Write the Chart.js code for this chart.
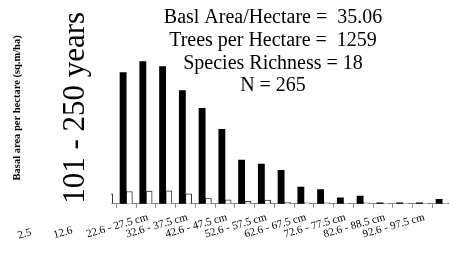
<!DOCTYPE html>
<html>
<head>
<meta charset="utf-8">
<script src="https://cdn.jsdelivr.net/npm/chart.js@4/dist/chart.umd.min.js"></script>
<style>
  html, body { margin: 0; padding: 0; background: #fff; }
  #wrap { width: 449px; height: 260px; position: relative; }
</style>
</head>
<body>
<div id="wrap"><canvas id="chart"></canvas></div>
<script>
// diameter classes (cm)
const classes = [
    '2.5 - 7.5 cm', '7.6 - 12.5 cm', '12.6 - 17.5 cm', '17.6 - 22.5 cm',
    '22.6 - 27.5 cm', '27.6 - 32.5 cm', '32.6 - 37.5 cm', '37.6 - 42.5 cm',
    '42.6 - 47.5 cm', '47.6 - 52.5 cm', '52.6 - 57.5 cm', '57.6 - 62.5 cm',
    '62.6 - 67.5 cm', '67.6 - 72.5 cm', '72.6 - 77.5 cm', '77.6 - 82.5 cm',
    '82.6 - 88.5 cm', '87.6 - 92.5 cm', '92.6 - 97.5 cm', '97.6 - 102.5 cm'
];
// black bars
const darkSeries = [null, null, null, 13.2, 14.3, 13.8, 11.4, 9.6, 7.5, 4.4,
    4.0, 3.37, 1.67, 1.43, 0.6, 0.77, 0.08, 0.08, 0.1, 0.43];
// white bars
const lightSeries = [null, null, 1.0, 1.23, 1.27, 1.3, 1.0, 0.57, 0.4, 0.23,
    0.37, 0.17, 0.1, 0.1, 0.03, 0.1, 0.03, 0.03, 0.05, 0.03];
const statsLines = [
    'Basl Area/Hectare =  35.06',
    'Trees per Hectare =  1259',
    'Species Richness = 18',
    'N = 265'
];
const yTitle = 'Basal area per hectare (sq.m/ha)';
const periodTitle = '101 - 250 years';

const SERIF = '"Liberation Serif", "Times New Roman", serif';
Chart.defaults.color = '#000';
Chart.defaults.font.family = SERIF;

// texts that sit inside the plot / outside the axis range
const textPlugin = {
    id: 'texts',
    afterDraw(chart) {
        const ctx = chart.ctx;
        ctx.save();
        ctx.fillStyle = '#000';
        ctx.font = '20px ' + SERIF;
        ctx.textAlign = 'center';
        ctx.textBaseline = 'alphabetic';
        statsLines.forEach((t, i) => ctx.fillText(t, 273, 23 + i * 22.8));

        // first two class labels, squeezed off to the left
        ctx.font = '11px ' + SERIF;
        ctx.textAlign = 'right';
        [[0, 32, 235], [2, 73, 233]].forEach(([i, x, y]) => {
            ctx.save();
            ctx.translate(x, y);
            ctx.rotate(-16 * Math.PI / 180);
            ctx.fillText(classes[i].split(' ')[0], 0, 0);
            ctx.restore();
        });
        ctx.restore();
    }
};

new Chart(document.getElementById('chart'), {
    type: 'bar',
    data: {
        datasets: [
            {
                data: classes.map((c, i) => ({ x: i, y: darkSeries[i] })),
                backgroundColor: '#000',
                borderWidth: 0,
                barThickness: 6.2,
                clip: 0
            },
            {
                data: classes.map((c, i) => ({ x: i, y: lightSeries[i] })),
                backgroundColor: '#fff',
                borderColor: '#333',
                borderWidth: 1,
                barThickness: 6.2,
                clip: 0
            }
        ]
    },
    options: {
        responsive: true,
        maintainAspectRatio: false,
        animation: false,
        layout: { padding: { top: 12, bottom: 16, left: 0, right: 0 } },
        plugins: { legend: { display: false }, tooltip: { enabled: false } },
        scales: {
            x: {
                type: 'linear',
                min: 2.23,
                max: 19.344,
                offset: false,
                afterBuildTicks(scale) {
                    const t = [];
                    for (let k = 2; k <= 18; k++) {
                        t.push({ value: k + 0.5 });
                        if (k >= 4 && k % 2 === 0) t.push({ value: k });
                    }
                    t.sort((a, b) => a.value - b.value);
                    scale.ticks = t;
                },
                grid: {
                    offset: false,
                    drawOnChartArea: false,
                    tickLength: 4,
                    color: (c) => (c.tick && c.tick.value % 1 !== 0) ? '#888' : 'rgba(0,0,0,0)'
                },
                border: { display: true, color: '#888', width: 1 },
                ticks: {
                    autoSkip: false,
                    minRotation: 16,
                    maxRotation: 16,
                    padding: 3,
                    labelOffset: 2,
                    font: { size: 11, family: SERIF },
                    callback: (v) => (Number.isInteger(v) ? classes[v] : '')
                }
            },
            y: {
                position: 'left',
                weight: 1,
                min: 0,
                max: 19.3,
                grid: { display: false, drawTicks: false },
                border: { display: false },
                ticks: { display: false },
                title: {
                    display: true,
                    text: yTitle,
                    font: { size: 10.5, weight: 'bold', family: SERIF },
                    padding: { top: 11.2, bottom: 5 }
                }
            },
            yPeriod: {
                position: 'left',
                weight: 0,
                display: true,
                grid: { display: false, drawTicks: false },
                border: { display: false },
                ticks: { display: false },
                title: {
                    display: true,
                    text: periodTitle,
                    font: { size: 31, family: SERIF, lineHeight: 1 },
                    padding: { top: 31.7, bottom: 19.5 }
                }
            }
        }
    },
    plugins: [textPlugin]
});
</script>
</body>
</html>
